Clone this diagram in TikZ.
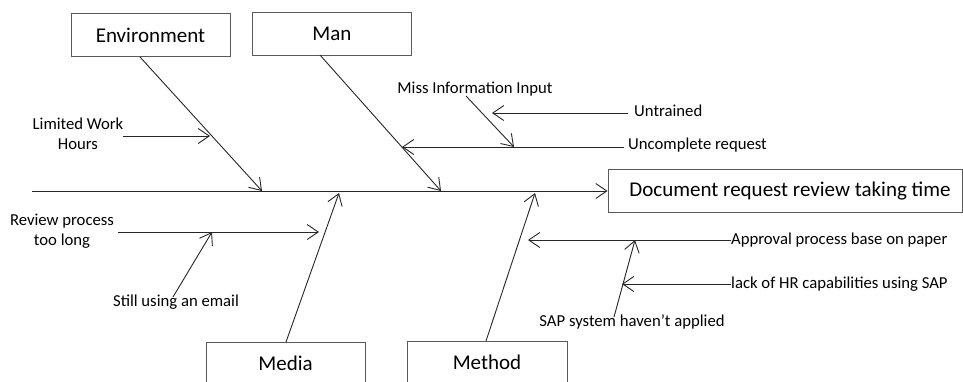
\documentclass[tikz,border=0pt]{standalone}
\usepackage{fontspec}
\setmainfont{Carlito}
\usetikzlibrary{arrows.meta}
\begin{document}
\begin{tikzpicture}[x=1pt,y=-1pt,
  catbox/.style={draw=black!65, line width=0.9pt, inner sep=0pt,
    minimum width=159pt, minimum height=43pt,
    font=\fontsize{21}{25}\selectfont},
  cause/.style={inner sep=0pt, font=\fontsize{16.7}{20.5}\selectfont},
  conn/.style={draw=black!85, line width=0.9pt,
    -{Straight Barb[length=11pt,width=15pt]}}]
\useasboundingbox (0,0) rectangle (963,381);
\clip (0,0) rectangle (963,381);

% category boxes and the effect
\node[catbox] (env) at (150.5,35) {Environment};
\node[catbox] (man) at (332,33.5) {Man};
\node[catbox, minimum width=159pt, minimum height=42pt] (media) at (285.5,363) {Media};
\node[catbox, minimum width=160pt, minimum height=43pt] (method) at (487,362.5) {Method};
\node[catbox, minimum width=354pt, minimum height=43pt] (effect) at (785,191) {\hspace{10pt}Document request review taking time};

% spine
\coordinate (tail) at (32,191);
\draw[conn] (tail) -- (effect.west);

% main bones
\coordinate (envTop) at (140,57);
\coordinate (envHit) at (262,191);
\coordinate (manTop) at (320,55);
\coordinate (manHit) at (441,191);
\coordinate (mediaBot) at (286,342);
\coordinate (mediaHit) at (339,193);
\coordinate (methodBot) at (486,341);
\coordinate (methodHit) at (535,193);
\draw[conn] (envTop) -- (envHit);
\draw[conn] (manTop) -- (manHit);
\draw[conn] (mediaBot) -- (mediaHit);
\draw[conn] (methodBot) -- (methodHit);

% Environment causes
\node[cause, align=center] (limited) at (78,134) {Limited Work\\Hours};
\coordinate (limStart) at (123,136);
\coordinate (limHit) at (210,136);
\draw[conn] (limStart) -- (limHit);

% Man causes
\node[cause, anchor=west] (uncomplete) at (628,145) {Uncomplete request};
\node[cause, anchor=west] (untrained) at (634,111) {Untrained};
\node[cause] (missinfo) at (475,89) {Miss Information Input};
\coordinate (uncStart) at (624,147);
\coordinate (uncHit) at (402,147);
\coordinate (untStart) at (628,113);
\coordinate (untHit) at (492,113);
\coordinate (missTop) at (466,96);
\coordinate (missHit) at (514,147);
\draw[conn] (uncStart) -- (uncHit);
\draw[conn] (untStart) -- (untHit);
\draw[conn] (missTop) -- (missHit);

% Media causes
\node[cause, align=center] (review) at (62,231) {Review process\\too long};
\node[cause] (email) at (176,302) {Still using an email};
\coordinate (revStart) at (118,232);
\coordinate (revHit) at (319,232);
\coordinate (emailTop) at (173,297);
\coordinate (emailHit) at (212,232);
\draw[conn] (revStart) -- (revHit);
\draw[conn] (emailTop) -- (emailHit);

% Method causes
\node[cause, anchor=west] (approval) at (731,240) {Approval process base on paper};
\node[cause, anchor=west] (lack) at (731,284) {lack of HR capabilities using SAP};
\node[cause] (sap) at (632,322) {SAP system haven’t applied};
\coordinate (appHit) at (528,240);
\coordinate (lackHit) at (622,284);
\coordinate (sapBot) at (614,317);
\coordinate (sapHit) at (635,240);
\draw[conn] (approval.west) -- (appHit);
\draw[conn] (lack.west) -- (lackHit);
\draw[conn] (sapBot) -- (sapHit);
\end{tikzpicture}
\end{document}
